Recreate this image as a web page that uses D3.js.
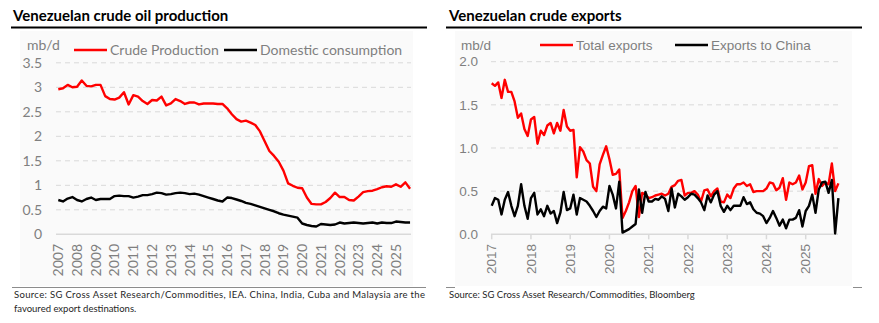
<!DOCTYPE html>
<html>
<head>
<meta charset="utf-8">
<script src="https://cdn.jsdelivr.net/npm/d3@7"></script>
<style>
  body { margin: 0; background: #fff; }
  svg { display: block; }
</style>
</head>
<body>
<div id="graf"></div>
<script>
// ---- data ----
// left: quarterly, 2007Q1 .. 2025Q4 (mb/d)
const prodStart = 2007
const crudeProduction = [
  2.96, 2.98, 3.05, 3.00,  3.01, 3.14, 3.03, 3.02,  3.05, 3.05, 2.82, 2.76,
  2.75, 2.79, 2.90, 2.65,  2.84, 2.81, 2.72, 2.66,  2.74, 2.73, 2.81, 2.63,
  2.67, 2.76, 2.72, 2.66,  2.69, 2.69, 2.65, 2.67,  2.67, 2.67, 2.66, 2.66,
  2.57, 2.45, 2.35, 2.30,  2.32, 2.28, 2.23, 2.10,  1.90, 1.70, 1.60, 1.48,
  1.30, 1.04, 0.99, 0.95,  0.94, 0.75, 0.62, 0.61,  0.61, 0.66, 0.74, 0.85,
  0.76, 0.76, 0.70, 0.69,  0.77, 0.86, 0.88, 0.89,  0.92, 0.96, 0.98, 0.97,
  1.02, 0.97, 1.06, 0.93
]
const domesticConsumption = [
  0.70, 0.67, 0.73, 0.76,  0.70, 0.67, 0.72, 0.75,  0.70, 0.72, 0.72, 0.72,
  0.78, 0.79, 0.78, 0.78,  0.75, 0.77, 0.80, 0.80,  0.82, 0.85, 0.84, 0.81,
  0.82, 0.84, 0.85, 0.84,  0.82, 0.83, 0.81, 0.78,  0.75, 0.72, 0.69, 0.67,
  0.75, 0.74, 0.71, 0.68,  0.64, 0.62, 0.59, 0.56,  0.53, 0.50, 0.47, 0.43,
  0.40, 0.38, 0.36, 0.34,  0.22, 0.19, 0.17, 0.16,  0.21, 0.20, 0.19, 0.20,
  0.24, 0.22, 0.23, 0.24,  0.23, 0.22, 0.23, 0.24,  0.22, 0.24, 0.23, 0.23,
  0.26, 0.25, 0.24, 0.24
]
const prodYears = d3.range(2007, 2026)
const prodTicks = [0, 0.5, 1, 1.5, 2, 2.5, 3, 3.5]

// right: monthly, Jan 2017 .. Nov 2025 (mb/d)
const expStart = 2017
const totalExports = [
  1.75, 1.72, 1.76, 1.58, 1.79, 1.65, 1.65, 1.54, 1.35, 1.40, 1.22, 1.14,
  1.33, 1.36, 1.05, 1.20, 1.15, 1.26, 1.29, 1.17, 1.29, 1.20, 1.44, 1.25,
  1.20, 1.21, 0.66, 1.01, 0.96, 0.86, 0.82, 0.55, 0.50, 0.81, 0.92, 1.02,
  0.87, 0.69, 0.70, 0.75, 0.19, 0.27, 0.37, 0.50, 0.56, 0.20, 0.48, 0.46,
  0.42, 0.43, 0.45, 0.46, 0.47, 0.45, 0.47, 0.55, 0.57, 0.62, 0.63, 0.45,
  0.48, 0.48, 0.50, 0.46, 0.38, 0.51, 0.52, 0.44, 0.50, 0.53, 0.38, 0.37,
  0.46, 0.42, 0.53, 0.58, 0.58, 0.60, 0.56, 0.58, 0.49, 0.50, 0.50, 0.50,
  0.53, 0.60, 0.59, 0.51, 0.54, 0.65, 0.40, 0.60, 0.58, 0.60, 0.68, 0.52,
  0.60, 0.79, 0.80, 0.47, 0.64, 0.56, 0.60, 0.58, 0.82, 0.50, 0.59
]
const exportsToChina = [
  0.33, 0.42, 0.40, 0.23, 0.40, 0.49, 0.33, 0.21, 0.33, 0.58, 0.33, 0.18,
  0.42, 0.48, 0.23, 0.29, 0.21, 0.33, 0.24, 0.27, 0.13, 0.25, 0.49, 0.28,
  0.30, 0.46, 0.23, 0.42, 0.40, 0.38, 0.33, 0.27, 0.20, 0.27, 0.32, 0.30,
  0.56, 0.46, 0.30, 0.61, 0.02, 0.04, 0.06, 0.09, 0.12, 0.52, 0.25, 0.49,
  0.38, 0.38, 0.41, 0.40, 0.44, 0.41, 0.27, 0.53, 0.31, 0.47, 0.44, 0.40,
  0.43, 0.47, 0.46, 0.42, 0.37, 0.28, 0.45, 0.37, 0.46, 0.50, 0.33, 0.26,
  0.33, 0.28, 0.33, 0.33, 0.33, 0.43, 0.35, 0.37, 0.29, 0.25, 0.24, 0.21,
  0.13, 0.19, 0.27, 0.19, 0.10, 0.17, 0.07, 0.17, 0.17, 0.19, 0.28, 0.09,
  0.27, 0.33, 0.46, 0.25, 0.52, 0.60, 0.61, 0.48, 0.63, 0.01, 0.42
]
const expYears = d3.range(2017, 2026)
const expTicks = [0, 0.5, 1, 1.5, 2]

// ---- drawing ----
const W = 879, H = 323
const svg = d3.select('#graf').append('svg').attr('width', W).attr('height', H)

const gridCol = '#d9d9d9'
const textCol = '#7f7f7f'

function panel(opt) {
  const g = svg.append('g')

  // title + rule
  g.append('text')
    .attr('x', opt.titleX).attr('y', 21)
    .attr('font-family', 'Lato, sans-serif').attr('font-weight', 700)
    .attr('font-size', 15).attr('fill', '#000')
    .text(opt.title)
  g.append('rect')
    .attr('x', opt.ruleX0).attr('y', 26.5)
    .attr('width', opt.ruleX1 - opt.ruleX0).attr('height', 2)
    .attr('fill', '#000')

  // plot background
  g.append('rect')
    .attr('x', opt.bg[0]).attr('y', 31)
    .attr('width', opt.bg[1] - opt.bg[0]).attr('height', 255)
    .attr('fill', '#fafafa')

  const x = d3.scaleLinear().domain(opt.xDomain).range(opt.xRange)
  const y = d3.scaleLinear().domain(opt.yDomain).range([234.3, opt.yTop])

  // grid
  g.selectAll('.grid').data(opt.yTicks.filter(d => d > 0)).enter()
    .append('line')
    .attr('x1', opt.gridX[0]).attr('x2', opt.gridX[1])
    .attr('y1', d => y(d)).attr('y2', d => y(d))
    .attr('stroke', gridCol).attr('stroke-width', 1)
    .attr('stroke-dasharray', '5,4')

  // y labels
  g.selectAll('.ylab').data(opt.yTicks).enter()
    .append('text')
    .attr('x', opt.yLabX).attr('y', d => y(d))
    .attr('dy', '0.35em').attr('text-anchor', 'end')
    .attr('font-family', opt.font).attr('font-size', opt.fs)
    .attr('fill', textCol)
    .text(opt.yFmt)

  // x axis line
  g.append('line')
    .attr('x1', opt.gridX[0]).attr('x2', opt.gridX[1])
    .attr('y1', y(0)).attr('y2', y(0))
    .attr('stroke', gridCol).attr('stroke-width', 1.5)

  if (opt.xTickMarks) {
    g.selectAll('.xt').data(opt.years).enter()
      .append('line')
      .attr('x1', d => x(d)).attr('x2', d => x(d))
      .attr('y1', y(0)).attr('y2', y(0) + 5)
      .attr('stroke', gridCol).attr('stroke-width', 1.5)
  }

  // x labels, rotated
  g.selectAll('.xlab').data(opt.years).enter()
    .append('text')
    .attr('transform', d => `translate(${x(d)},${opt.xLabY}) rotate(-90)`)
    .attr('text-anchor', 'end').attr('dy', '0.35em')
    .attr('font-family', opt.font).attr('font-size', opt.fs)
    .attr('fill', textCol)
    .text(d => d)

  // lines
  opt.series.forEach(s => {
    const line = d3.line()
      .x((d, i) => x(opt.start + i / opt.perYear))
      .y(d => y(d))
    g.append('path')
      .datum(s.values)
      .attr('d', line)
      .attr('fill', 'none')
      .attr('stroke', s.color)
      .attr('stroke-width', 2.4)
      .attr('stroke-linejoin', 'round')
  })

  // unit + legend
  g.append('text')
    .attr('x', opt.unitX).attr('y', 45).attr('dy', '0.35em')
    .attr('font-family', opt.font).attr('font-size', opt.fs)
    .attr('fill', textCol).text('mb/d')
  opt.series.forEach(s => {
    g.append('line')
      .attr('x1', s.lx).attr('x2', s.lx + 33)
      .attr('y1', opt.legY).attr('y2', opt.legY)
      .attr('stroke', s.color).attr('stroke-width', 2.4)
    g.append('text')
      .attr('x', s.lx + 36).attr('y', opt.legY).attr('dy', '0.35em')
      .attr('font-family', opt.font).attr('font-size', opt.fs)
      .attr('fill', textCol).text(s.name)
  })
  return g
}

panel({
  title: 'Venezuelan crude oil production',
  titleX: 13, ruleX0: 11, ruleX1: 427,
  bg: [20, 413],
  xDomain: [2007, 2026], xRange: [58.3, 58.3 + 19 * 18.76],
  yDomain: [0, 3.5], yTop: 62.8,
  yTicks: prodTicks, yFmt: d => d,
  gridX: [56, 411], yLabX: 42,
  years: prodYears, xLabY: 244, xTickMarks: false,
  font: 'Lato, sans-serif', fs: 14,
  start: prodStart, perYear: 4,
  unitX: 27, legY: 50,
  series: [
    { name: 'Crude Production', values: crudeProduction, color: '#ff0000', lx: 74 },
    { name: 'Domestic consumption', values: domesticConsumption, color: '#000000', lx: 224 }
  ]
})

panel({
  title: 'Venezuelan crude exports',
  titleX: 449, ruleX0: 446, ruleX1: 862,
  bg: [455, 852],
  xDomain: [2017, 2026], xRange: [491.7, 491.7 + 9 * 39.25],
  yDomain: [0, 2], yTop: 61.7,
  yTicks: expTicks, yFmt: d3.format('.1f'),
  gridX: [491, 838], yLabX: 478,
  years: expYears, xLabY: 244, xTickMarks: true,
  font: '"Liberation Sans", Arial, sans-serif', fs: 13.5,
  start: expStart, perYear: 12,
  unitX: 461, legY: 45,
  series: [
    { name: 'Total exports', values: totalExports, color: '#ff0000', lx: 540 },
    { name: 'Exports to China', values: exportsToChina, color: '#000000', lx: 675 }
  ]
})

// footers
svg.append('line')
  .attr('x1', 12).attr('x2', 426).attr('y1', 287.5).attr('y2', 287.5)
  .attr('stroke', '#8c8c8c').attr('stroke-width', 1)
svg.append('text')
  .attr('x', 14).attr('y', 297.5)
  .attr('font-family', 'Lato, sans-serif').attr('font-size', 9.5).attr('fill', '#262626')
  .attr('textLength', 411).attr('lengthAdjust', 'spacing')
  .text('Source: SG Cross Asset Research/Commodities, IEA.  China, India, Cuba and Malaysia are the')
svg.append('text')
  .attr('x', 14).attr('y', 312)
  .attr('font-family', 'Lato, sans-serif').attr('font-size', 9.5).attr('fill', '#262626')
  .text('favoured export destinations.')

svg.append('line')
  .attr('x1', 446).attr('x2', 455).attr('y1', 287.5).attr('y2', 287.5)
  .attr('stroke', '#8c8c8c').attr('stroke-width', 1)
svg.append('line')
  .attr('x1', 853).attr('x2', 862).attr('y1', 287.5).attr('y2', 287.5)
  .attr('stroke', '#8c8c8c').attr('stroke-width', 1)
svg.append('text')
  .attr('x', 449).attr('y', 297.5)
  .attr('font-family', 'Lato, sans-serif').attr('font-size', 9.5).attr('fill', '#262626')
  .text('Source: SG Cross Asset Research/Commodities, Bloomberg')
</script>
</body>
</html>
